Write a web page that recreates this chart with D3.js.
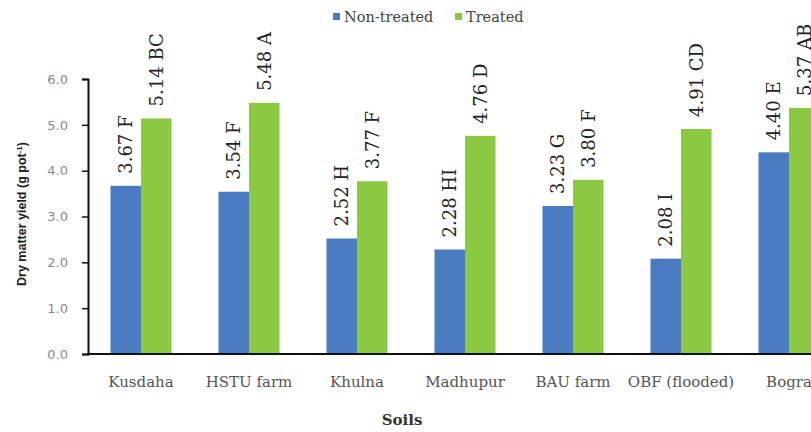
<!DOCTYPE html>
<html>
<head>
<meta charset="utf-8">
<script src="https://cdn.jsdelivr.net/npm/d3@7"></script>
<style>
  html, body { margin: 0; padding: 0; background: #fff; }
  svg { display: block; }
</style>
</head>
<body>
<svg id="chart" width="811" height="432"></svg>
<script>
// Dry matter yield per soil, with mean-separation letters
const categories = ["Kusdaha", "HSTU farm", "Khulna", "Madhupur", "BAU farm", "OBF (flooded)", "Bogra"];
const nonTreated = [3.67, 3.54, 2.52, 2.28, 3.23, 2.08, 4.40];
const treated = [5.14, 5.48, 3.77, 4.76, 3.80, 4.91, 5.37];
const nonTreatedLetters = ["F", "F", "H", "HI", "G", "I", "E"];
const treatedLetters = ["BC", "A", "F", "D", "F", "CD", "AB"];
const seriesNames = ["Non-treated", "Treated"];
const yTicks = [0, 1, 2, 3, 4, 5, 6];

const colors = { "Non-treated": "#4a7bc1", "Treated": "#8cc942" };

const svg = d3.select("#chart");

const x0 = d3.scaleBand()
  .domain(categories)
  .range([87, 843])
  .paddingInner(0.435)
  .paddingOuter(0.2175);

const x1 = d3.scaleBand()
  .domain(seriesNames)
  .range([0, x0.bandwidth()]);

const y = d3.scaleLinear().domain([0, 6]).range([354, 79]);

const rows = categories.map((c, i) => ({
  cat: c,
  bars: [
    { key: "Non-treated", value: nonTreated[i], letter: nonTreatedLetters[i] },
    { key: "Treated", value: treated[i], letter: treatedLetters[i] }
  ]
}));

// bars
const groups = svg.append("g").selectAll("g")
  .data(rows).join("g")
  .attr("transform", d => `translate(${x0(d.cat)},0)`);

groups.selectAll("rect")
  .data(d => d.bars).join("rect")
  .attr("x", d => x1(d.key))
  .attr("y", d => y(d.value))
  .attr("width", x1.bandwidth())
  .attr("height", d => y(0) - y(d.value))
  .attr("fill", d => colors[d.key]);

// rotated value labels above each bar
groups.selectAll("text.val")
  .data(d => d.bars).join("text")
  .attr("class", "val")
  .attr("transform", d => `translate(${x1(d.key) + x1.bandwidth() / 2},${y(d.value) - 12}) rotate(-90)`)
  .attr("text-anchor", "start")
  .attr("dominant-baseline", "central")
  .attr("font-family", "DejaVu Serif")
  .attr("font-size", 18)
  .attr("fill", "#222")
  .text(d => d.value.toFixed(2) + " " + d.letter);

// y axis
const yAxis = svg.append("g")
  .attr("transform", "translate(88,0)")
  .call(d3.axisLeft(y).tickValues(yTicks).tickFormat(d3.format(".1f")).tickSize(6).tickPadding(14));
yAxis.select(".domain").attr("stroke", "#111").attr("stroke-width", 2);
yAxis.selectAll(".tick line").attr("stroke", "#111").attr("stroke-width", 1.5);
yAxis.selectAll(".tick text")
  .attr("font-family", "DejaVu Sans")
  .attr("font-size", 13)
  .attr("fill", "#8a8a8a");

// x axis baseline and category labels
const xAxis = svg.append("g")
  .attr("transform", `translate(0,${y(0)})`)
  .call(d3.axisBottom(x0).tickSize(0).tickPadding(22));
xAxis.select(".domain").attr("stroke", "#111").attr("stroke-width", 2)
  .attr("d", "M87,0H843");
xAxis.selectAll(".tick text")
  .attr("font-family", "DejaVu Serif")
  .attr("font-size", 15)
  .attr("fill", "#555");

// axis titles
svg.append("text")
  .attr("transform", "translate(26,214) rotate(-90)")
  .attr("text-anchor", "middle")
  .attr("font-family", "Liberation Sans")
  .attr("font-weight", "bold")
  .attr("font-size", 12.5)
  .attr("fill", "#222")
  .call(t => {
    t.append("tspan").text("Dry matter yield (g pot");
    t.append("tspan").attr("baseline-shift", "super").attr("font-size", 8).text("-1");
    t.append("tspan").text(")");
  });

svg.append("text")
  .attr("x", 402)
  .attr("y", 425)
  .attr("text-anchor", "middle")
  .attr("font-family", "DejaVu Serif")
  .attr("font-weight", "bold")
  .attr("font-size", 15)
  .attr("fill", "#333")
  .text("Soils");

// legend
const legendX = [333, 455];
const legend = svg.append("g").selectAll("g")
  .data(seriesNames).join("g")
  .attr("transform", (d, i) => `translate(${legendX[i]},13)`);
legend.append("rect")
  .attr("width", 7).attr("height", 7)
  .attr("fill", d => colors[d]);
legend.append("text")
  .attr("x", 11).attr("y", 9)
  .attr("font-family", "DejaVu Serif")
  .attr("font-size", 14.5)
  .attr("fill", "#444")
  .text(d => d);
</script>
</body>
</html>
